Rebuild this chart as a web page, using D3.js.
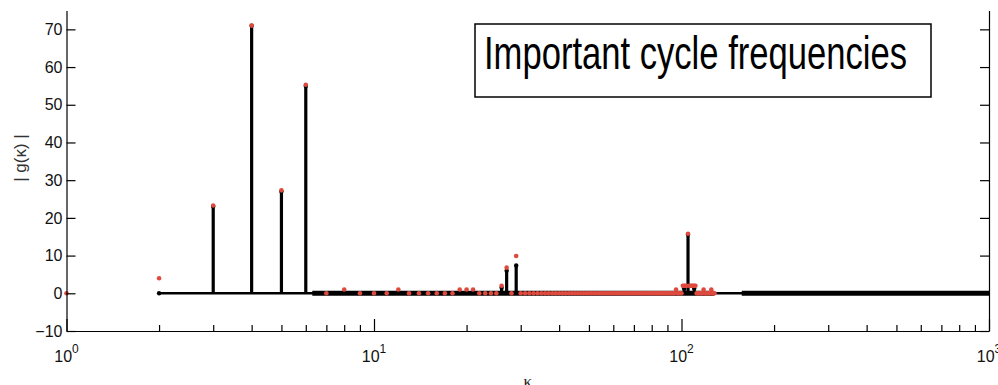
<!DOCTYPE html>
<html>
<head>
<meta charset="utf-8">
<script src="https://cdn.jsdelivr.net/npm/d3@7"></script>
<style>
  body { margin: 0; background: #fff; }
  svg { display: block; }
  .axis text { font-family: "Liberation Sans", Arial, sans-serif; font-size: 16px; fill: #111; }
  .axis path, .axis line { stroke: #000; stroke-width: 1.2; }
</style>
</head>
<body>
<div id="chart"></div>
<script>
// black stems: |g(k)|
const stemK = [2, 3, 4, 5, 6, 26, 27, 29, 102, 105, 110];
const stemVal = [0, 23, 71, 27, 55, 1.5, 6, 7.4, 1.3, 15.6, 1.3];

// red markers: integer k from 1 to 128, zero unless listed below
const redKMax = 128;
const redPeakK = [2, 3, 4, 5, 6, 8, 12, 19, 20, 21, 26, 27, 29, 96, 101, 102, 103, 104, 105, 106, 107, 108, 109, 110, 111, 118, 125];
const redPeakVal = [4, 23.3, 71, 27.3, 55.3, 1, 1, 1, 1, 1, 2, 6.8, 9.9, 1, 2, 2, 2, 2, 15.8, 2, 2, 2, 2, 2, 2, 1, 1];

// k ranges where the black baseline is drawn densely (looks thicker)
const denseRanges = [[6.3, 128], [157, 1000]];

const yTicks = [-10, 0, 10, 20, 30, 40, 50, 60, 70];
const xDecades = [1, 10, 100, 1000];
const xLabelExp = ["0", "1", "2", "3"];

const W = 998, H = 385;
const m = { left: 66.5, right: 9, top: 10.5, bottom: 54 };

const svg = d3.select("#chart").append("svg")
    .attr("width", W)
    .attr("height", H);

const x = d3.scaleLog().domain([1, 1000]).range([m.left, W - m.right]);
const y = d3.scaleLinear().domain([-10, 75]).range([H - m.bottom, m.top]);

// baseline at zero
svg.append("line")
    .attr("x1", x(2)).attr("x2", x(1000))
    .attr("y1", y(0)).attr("y2", y(0))
    .attr("stroke", "#000").attr("stroke-width", 2.6);

svg.append("g").selectAll("line")
    .data(denseRanges)
    .enter().append("line")
    .attr("x1", d => x(d[0])).attr("x2", d => x(d[1]))
    .attr("y1", y(0)).attr("y2", y(0))
    .attr("stroke", "#000").attr("stroke-width", 5);

// stems
const stems = stemK.map((k, i) => ({ k, v: stemVal[i] }));
svg.append("g").selectAll("line")
    .data(stems)
    .enter().append("line")
    .attr("x1", d => x(d.k)).attr("x2", d => x(d.k))
    .attr("y1", y(0)).attr("y2", d => y(d.v))
    .attr("stroke", "#000").attr("stroke-width", 3.2);

svg.append("g").selectAll("circle")
    .data(stems)
    .enter().append("circle")
    .attr("cx", d => x(d.k)).attr("cy", d => y(d.v))
    .attr("r", 2.2)
    .attr("fill", "#000");

// red markers
const peakMap = new Map(redPeakK.map((k, i) => [k, redPeakVal[i]]));
const redPts = d3.range(1, redKMax + 1).map(k => ({ k, v: peakMap.has(k) ? peakMap.get(k) : 0 }));
svg.append("g").selectAll("circle")
    .data(redPts)
    .enter().append("circle")
    .attr("cx", d => x(d.k)).attr("cy", d => y(d.v))
    .attr("r", 2.3)
    .attr("fill", "#df4a3f");

// axes
const yLeft = d3.axisLeft(y).tickValues(yTicks).tickSizeInner(-9).tickSizeOuter(0).tickPadding(4);
svg.append("g").attr("class", "axis")
    .attr("transform", `translate(${m.left},0)`)
    .call(yLeft);

const yRight = d3.axisRight(y).tickValues(yTicks).tickSizeInner(-9).tickSizeOuter(0).tickFormat("");
svg.append("g").attr("class", "axis")
    .attr("transform", `translate(${W - m.right},0)`)
    .call(yRight);

const minorTicks = [];
xDecades.slice(0, -1).forEach(d => {
    for (let i = 1; i < 10; i++) minorTicks.push(d * i);
});
minorTicks.push(1000);

const xAxis = d3.axisBottom(x).tickValues(minorTicks).tickFormat("").tickSizeOuter(0);
const gx = svg.append("g").attr("class", "axis")
    .attr("transform", `translate(0,${H - m.bottom})`)
    .call(xAxis);
gx.selectAll(".tick line")
    .attr("y2", d => xDecades.includes(d) ? -12 : -6);

const xl = svg.append("g").attr("class", "axis");
xDecades.forEach((d, i) => {
    const t = xl.append("text")
        .attr("x", x(d)).attr("y", 362)
        .attr("text-anchor", "middle");
    t.append("tspan").text("10");
    t.append("tspan").attr("dy", -9).attr("font-size", 12).text(xLabelExp[i]);
});

// axis titles
svg.append("text")
    .attr("x", x(Math.sqrt(1000))).attr("y", 387)
    .attr("text-anchor", "middle")
    .attr("font-family", "Liberation Serif, serif")
    .attr("font-size", 17)
    .attr("fill", "#222")
    .text("κ");

svg.append("text")
    .attr("transform", "translate(26,158) rotate(-90)")
    .attr("text-anchor", "middle")
    .attr("font-family", "Liberation Sans, Arial, sans-serif")
    .attr("font-size", 17)
    .attr("fill", "#333")
    .text("| g(κ) |");

// annotation box
svg.append("rect")
    .attr("x", 475).attr("y", 24)
    .attr("width", 456).attr("height", 73)
    .attr("fill", "#fff")
    .attr("stroke", "#000").attr("stroke-width", 1.5);

svg.append("text")
    .attr("x", 484).attr("y", 69)
    .attr("font-family", "Liberation Sans Narrow, Arial Narrow, Liberation Sans, sans-serif")
    .attr("font-size", 47)
    .attr("textLength", 423)
    .attr("lengthAdjust", "spacingAndGlyphs")
    .attr("fill", "#000")
    .text("Important cycle frequencies");
</script>
</body>
</html>
